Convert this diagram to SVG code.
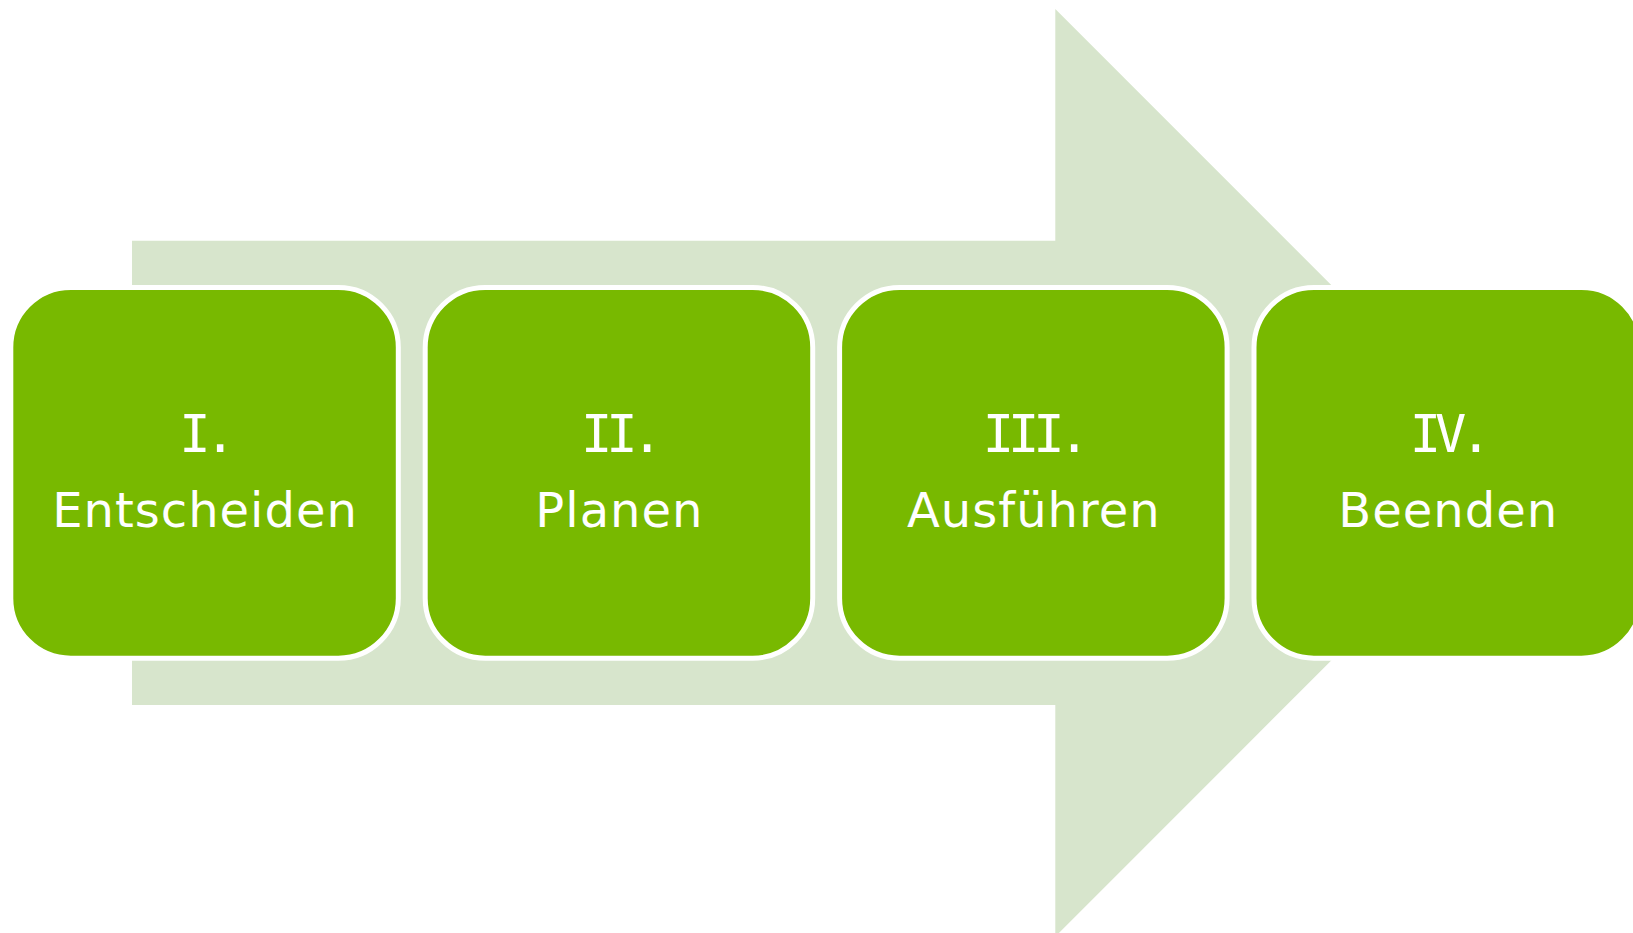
<svg xmlns="http://www.w3.org/2000/svg" width="1633" height="933" viewBox="0 0 1633 933">
  <style>
    .step { fill: #78B900; stroke: #FFFFFF; stroke-width: 5; }
    .num { font-family: "DejaVu Sans Mono", "Liberation Mono", monospace; font-size: 52px; fill: #FFFFFF; text-anchor: middle; letter-spacing: -6px; }
    .label { font-family: "DejaVu Sans", "Verdana", sans-serif; font-size: 48px; fill: #FFFFFF; text-anchor: middle; letter-spacing: 1px; }
  </style>

  <rect width="1633" height="933" fill="#FFFFFF"/>

  <!-- Background process arrow -->
  <g id="connectors">
    <polygon points="132,240.7 1055.3,240.7 1055.3,9 1519,472.8 1055.3,936.6 1055.3,705 132,705" fill="#D7E5CC"/>
  </g>

  <g id="step1">
    <rect class="step" x="10.8" y="287.5" width="387.5" height="370.7" rx="60" ry="60"/>
    <text class="num" x="204.5" y="451.7">I.</text>
    <text class="label" x="205" y="527.3">Entscheiden</text>
  </g>

  <g id="step2">
    <rect class="step" x="425.2" y="287.5" width="387.5" height="370.7" rx="60" ry="60"/>
    <text class="num" x="618.9" y="451.7">II.</text>
    <text class="label" x="619.4" y="527.3">Planen</text>
  </g>

  <g id="step3">
    <rect class="step" x="839.6" y="287.5" width="387.5" height="370.7" rx="60" ry="60"/>
    <text class="num" x="1033.3" y="451.7">III.</text>
    <text class="label" x="1033.8" y="527.3">Ausführen</text>
  </g>

  <g id="step4">
    <rect class="step" x="1254" y="287.5" width="387.5" height="370.7" rx="60" ry="60"/>
    <text class="num" x="1447.7" y="451.7">IV.</text>
    <text class="label" x="1448.2" y="527.3">Beenden</text>
  </g>
</svg>
